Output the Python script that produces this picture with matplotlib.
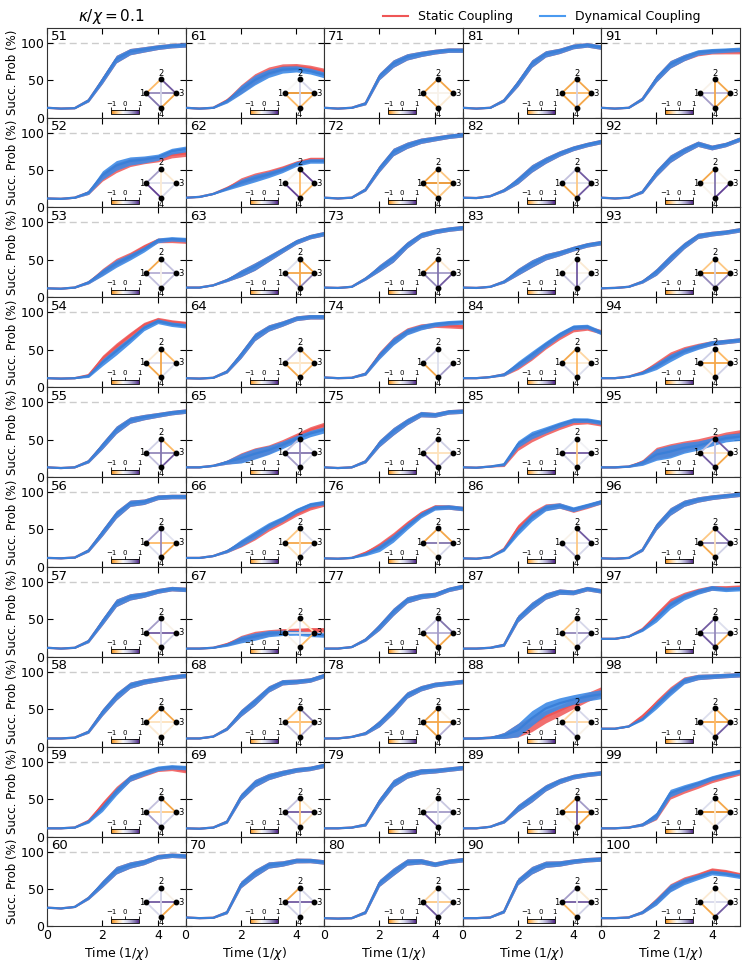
import numpy as np
import matplotlib
matplotlib.use("Agg")
import matplotlib.pyplot as plt
from matplotlib.colors import LinearSegmentedColormap, Normalize
from matplotlib.cm import ScalarMappable

# time grid of the read-off points (1/chi)
t = [0, 0.5, 1.0, 1.5, 2.0, 2.5, 3.0, 3.5, 4.0, 4.5, 5.0]

# dynamical coupling success probability (%) per instance
dyn = {
    51: [13, 12, 12.5, 23, 50, 78, 88, 91, 94, 96, 97],
    52: [12, 11.5, 13, 20, 43, 56, 62, 64, 67, 75, 78],
    53: [12, 11.5, 13, 20, 33, 45, 54, 64, 76, 78, 77],
    54: [12, 11.5, 12, 15, 33, 48, 63, 79, 88, 84, 82],
    55: [13, 12, 13, 21, 42, 63, 76, 80, 83, 86, 88],
    56: [12, 11.5, 12.5, 22, 46, 70, 85, 87, 93, 94, 94],
    57: [12, 11, 12, 21, 47, 72, 80, 83, 88, 91, 90],
    58: [11, 11, 12, 20, 46, 67, 82, 87, 90, 93, 95],
    59: [11, 11, 12, 20, 38, 60, 78, 85, 91, 93, 92],
    60: [25, 24, 26, 38, 57, 75, 82, 86, 93, 95, 94],
    61: [13, 12, 13, 22, 37, 50, 59, 64, 65, 62, 57],
    62: [13, 14, 18, 25, 33, 39, 44, 50, 58, 62, 62],
    63: [13, 13, 16, 23, 32, 41, 52, 63, 74, 81, 85],
    64: [12, 11.5, 12.5, 21, 43, 67, 79, 85, 92, 94, 94],
    65: [13, 13, 15, 20, 25, 31, 36, 43, 51, 58, 63],
    66: [12, 12, 14.5, 21, 32, 43, 55, 64, 75, 83, 86],
    67: [11, 11, 12, 16, 23, 27, 31, 32, 32, 30, 29],
    68: [11, 11, 13.5, 24, 45, 60, 77, 86, 87, 89, 95],
    69: [11, 10.5, 12, 20, 53, 71, 80, 85, 89, 91, 95],
    70: [12, 11, 11.5, 19, 56, 71, 82, 84, 88, 88, 86],
    71: [13, 12, 13, 19, 55, 72, 81, 85, 88, 90, 90],
    72: [13, 12, 13, 24, 52, 74, 83, 89, 92, 95, 97],
    73: [13, 12.5, 14, 25, 39, 52, 70, 83, 88, 91, 93],
    74: [13, 12, 12.5, 18, 42, 61, 74, 80, 84, 86, 87],
    75: [13, 12, 13, 21, 45, 61, 74, 84, 83, 87, 88],
    76: [11.5, 11, 12, 17, 25, 38, 54, 69, 79, 80, 78],
    77: [11, 11, 13, 23, 40, 60, 76, 81, 83, 90, 94],
    78: [11, 11, 13, 18, 31, 49, 69, 78, 83, 85, 87],
    79: [11, 11, 12, 16, 47, 71, 82, 87, 88, 90, 92],
    80: [11, 10.5, 11, 19, 58, 73, 86, 87, 83, 87, 89],
    81: [13, 12, 13, 23, 46, 72, 85, 89, 95, 97, 94],
    82: [13, 12.5, 15, 23, 36, 52, 63, 72, 79, 84, 88],
    83: [13, 12.5, 14, 21, 34, 45, 54, 59, 65, 70, 73],
    84: [12, 12, 13.5, 17, 30, 43, 57, 70, 80, 81, 73],
    85: [13, 12.5, 14, 17, 44, 56, 63, 70, 76, 76, 73],
    86: [11.5, 11, 13, 23, 47, 66, 79, 82, 77, 82, 87],
    87: [11, 11, 12, 16, 51, 68, 81, 87, 86, 91, 88],
    88: [11, 11, 12, 15, 22, 38, 51, 58, 63, 67, 70],
    89: [11, 11, 13, 20, 38, 51, 65, 74, 80, 83, 85],
    90: [11, 11, 12, 20, 60, 75, 83, 84, 87, 89, 90],
    91: [13, 12, 13, 25, 52, 71, 80, 87, 89, 90, 91],
    92: [13, 12, 13, 21, 46, 65, 76, 85, 80, 84, 91],
    93: [12, 12.5, 14, 21, 34, 52, 69, 82, 85, 87, 90],
    94: [12, 12, 14, 19, 28, 39, 48, 54, 59, 61, 63],
    95: [13, 13, 14, 19, 30, 34, 39, 42, 47, 52, 54],
    96: [11.5, 11, 12, 23, 54, 74, 85, 90, 93, 95, 97],
    97: [24, 24, 27, 36, 51, 69, 80, 87, 92, 90, 91],
    98: [24, 24, 27, 37, 55, 73, 88, 93, 94, 95, 96],
    99: [11, 11, 12, 16, 28, 58, 65, 71, 78, 83, 87],
    100: [11, 11, 12, 19, 33, 51, 60, 66, 72, 70, 67],
}

# static coupling where it differs visibly from the dynamical one
stat = {
    52: [12, 11.5, 13, 20, 41, 53, 60, 63, 65, 70, 72],
    53: [12, 11.5, 13, 20, 34, 47, 56, 67, 76, 76, 75],
    54: [12, 11.5, 12, 16, 38, 54, 69, 83, 90, 87, 85],
    59: [11, 11, 12, 21, 42, 62, 78, 84, 90, 91, 88],
    61: [13, 12, 13, 23, 38, 52, 62, 67, 68, 66, 62],
    62: [13, 14, 18, 26, 35, 41, 46, 52, 59, 64, 64],
    65: [13, 13, 15, 20, 26, 32, 37, 45, 54, 63, 69],
    66: [12, 12, 14.5, 21, 31, 41, 52, 61, 71, 79, 84],
    67: [11, 11, 12, 17, 24, 29, 32, 34, 35, 36, 36],
    74: [13, 12, 12.5, 18, 43, 62, 75, 81, 83, 82, 81],
    76: [11.5, 11, 12, 19, 28, 41, 57, 71, 80, 80, 78],
    84: [12, 12, 13.5, 17, 28, 41, 55, 67, 77, 79, 74],
    85: [13, 12.5, 14, 16, 40, 52, 60, 67, 73, 74, 71],
    86: [11.5, 11, 13, 24, 52, 69, 80, 82, 76, 81, 87],
    88: [11, 11, 12, 15, 22, 30, 40, 48, 57, 66, 74],
    91: [13, 12, 13, 25, 52, 71, 80, 86, 88, 88, 88],
    94: [12, 12, 14, 20, 30, 42, 50, 55, 59, 61, 63],
    95: [13, 13, 14, 20, 32, 36, 41, 45, 50, 55, 58],
    97: [24, 24, 27, 37, 55, 73, 82, 88, 92, 92, 93],
    98: [24, 24, 27, 41, 58, 75, 89, 93, 94, 95, 96],
    99: [11, 11, 12, 16, 27, 55, 62, 68, 75, 80, 85],
    100: [11, 11, 12, 19, 34, 52, 62, 68, 75, 73, 69],
}

# half width of the shaded spread over time, and wider panels
spread = [0.5, 0.5, 0.6, 2.0, 4.5, 5.0, 4.2, 3.6, 3.2, 3.0, 3.0]
spread_scale = {88: 2.0, 95: 1.7, 65: 1.4, 52: 1.3, 61: 1.3}

# couplings on the edges 1-2, 2-3, 3-4, 4-1, 1-3, 2-4
edges = {
    51: [-0.7, 0.8, -0.8, 0.7, 0.6, 0.2],
    52: [0.5, -0.3, 0.15, 0.9, 0.1, -0.3],
    53: [-0.8, 0.3, 0.3, 0.3, 0.4, -0.2],
    54: [-0.3, -0.7, 0.1, -0.8, 0.15, -0.8],
    55: [0.2, -0.7, 0.8, 0.3, 0.6, 0.7],
    56: [0.5, 0.05, -0.8, 0.1, -0.7, 0.6],
    57: [0.5, -0.2, 0.2, -0.4, 0.8, 0.3],
    58: [-0.8, -0.8, -0.3, -0.3, -0.4, -0.2],
    59: [0.3, -0.8, 0.2, 0.5, -0.6, 0.1],
    60: [0.1, -0.2, -0.8, 0.15, 0.8, 0.2],
    61: [-0.15, 0.15, -0.7, -0.7, -0.9, 0.2],
    62: [-0.2, 0.9, -0.7, 0.9, -0.2, -0.7],
    63: [0.1, -0.8, 0.6, 0.5, -0.8, -0.8],
    64: [0.3, -0.7, -0.7, -0.8, -0.4, -0.3],
    65: [0.3, 0.1, 0.1, 0.5, 0.7, 0.6],
    66: [-0.6, 0.1, 0.2, -0.4, -0.8, -0.5],
    67: [-0.3, -0.4, -0.7, -0.2, 0.1, 0.1],
    68: [-0.6, 0.6, 0.4, 0.3, -0.7, -0.6],
    69: [0.3, -0.3, -0.4, 0.3, 0.8, -0.6],
    70: [-0.8, 0.15, -0.2, 0.2, 0.8, 0.2],
    71: [-0.8, -0.8, -0.3, -0.8, -0.2, -0.2],
    72: [-0.8, -0.6, -0.6, -0.8, -0.9, -0.4],
    73: [-0.8, -0.3, 0.8, 0.6, 0.5, 0.7],
    74: [0.3, -0.15, 0.5, -0.8, -0.15, 0.1],
    75: [0.3, 0.2, 0.3, 0.8, -0.4, -0.4],
    76: [-0.8, -0.8, 0.15, -0.3, 0.7, -0.2],
    77: [0.3, 0.7, -0.8, -0.8, 0.4, 0.5],
    78: [-0.8, -0.2, 0.4, -0.8, -0.8, -0.8],
    79: [-0.2, 0.25, 0.1, 0.8, 0.5, 0.1],
    80: [-0.5, 0.1, 0.3, 0.8, -0.6, 0.1],
    81: [-0.8, -0.8, -0.8, -0.8, -0.7, 0.2],
    82: [0.3, 0.8, 0.8, -0.8, 0.1, -0.6],
    83: [-0.2, -0.3, 0.15, 0.3, -0.2, 0.8],
    84: [-0.8, -0.5, 0.1, 0.2, -0.3, -0.7],
    85: [0.1, -0.1, 0.1, 0.2, 0.8, -0.6],
    86: [-0.2, 0.8, 0.15, 0.4, 0.05, -0.6],
    87: [-0.6, 0.15, 0.3, -0.4, 0.6, 0.05],
    88: [-0.5, 0.15, -0.2, 0.4, -0.5, 0.1],
    89: [-0.8, 0.5, -0.8, -0.2, -0.8, 0.8],
    90: [0.5, -0.3, 0.2, -0.7, 0.8, -0.1],
    91: [-0.2, -0.8, -0.8, 0.5, 0.35, -0.8],
    92: [-0.8, -0.2, 0.9, -0.2, -0.2, 0.7],
    93: [-0.6, -0.6, 0.6, 0.6, -0.9, 0.2],
    94: [0.2, -0.7, 0.2, -0.3, -0.8, -0.8],
    95: [0.3, 0.8, -0.8, 0.8, -0.4, 0.3],
    96: [-0.6, 0.8, 0.2, -0.8, 0.6, -0.4],
    97: [0.8, 0.1, -0.8, 0.8, 0.3, 0.6],
    98: [0.1, -0.8, 0.8, 0.15, -0.8, -0.7],
    99: [0.1, -0.8, 0.15, -0.3, -0.9, -0.3],
    100: [-0.3, -0.3, 0.8, -0.8, 0.15, -0.1],
}
edge_pairs = [(1, 2), (2, 3), (3, 4), (4, 1), (1, 3), (2, 4)]

RED = "#ef5656"
BLUE = "#3d8ae6"
cmap = LinearSegmentedColormap.from_list(
    "puor_mid", ["#e08214", "#fdb863", "#fee0b6", "#f7f7f7",
                 "#d8daeb", "#b2abd2", "#8073ac", "#542788"])
norm = Normalize(-1, 1)

# node positions of the little graph, in axes fraction
node_xy = {1: (0.715, 0.269), 2: (0.823, 0.428), 3: (0.931, 0.269), 4: (0.823, 0.108)}

fig, axes = plt.subplots(10, 5, figsize=(7.47, 9.64), dpi=100, sharex=True, sharey=True)
fig.subplots_adjust(left=0.063, right=0.99, top=0.9713, bottom=0.039, hspace=0, wspace=0)

tt = np.array(t)
sp = np.array(spread)
for n in range(51, 101):
    col = (n - 51) // 10
    row = (n - 51) % 10
    ax = axes[row, col]
    w = sp * spread_scale.get(n, 1.0)
    yd = np.array(dyn[n])
    ys = np.array(stat.get(n, dyn[n]))
    ax.axhline(100, color="#cccccc", ls=(0, (5, 3)), lw=1.0, zorder=1)
    ax.fill_between(tt, ys - w, ys + w, color=RED, alpha=0.85, lw=0, zorder=2)
    ax.plot(tt, ys, color=RED, lw=1.6, zorder=2)
    ax.fill_between(tt, yd - w, yd + w, color=BLUE, alpha=0.9, lw=0, zorder=3)
    ax.plot(tt, yd, color="#3a7fd8", lw=1.6, zorder=3)
    ax.set_xlim(0, 5)
    ax.set_ylim(0, 120)
    ax.set_xticks([0, 2, 4])
    ax.set_yticks([0, 50, 100])
    ax.tick_params(direction="in", top=True, right=True, labelsize=9, length=4, pad=2)
    for s in ax.spines.values():
        s.set_color("#333333")
    ax.text(0.03, 0.97, str(n), transform=ax.transAxes, ha="left", va="top", fontsize=9.5)

    # graph inset
    for (a, b), v in zip(edge_pairs, edges[n]):
        xa, ya = node_xy[a]
        xb, yb = node_xy[b]
        ax.plot([xa, xb], [ya, yb], transform=ax.transAxes, color=cmap(norm(v)),
                lw=1.3, zorder=5, solid_capstyle="round")
    for k, (x, y) in node_xy.items():
        ax.plot(x, y, "o", color="black", ms=3.2, transform=ax.transAxes, zorder=6)
    ax.text(0.700, 0.269, "1", transform=ax.transAxes, ha="right", va="center", fontsize=6, zorder=6)
    ax.text(0.946, 0.269, "3", transform=ax.transAxes, ha="left", va="center", fontsize=6, zorder=6)
    ax.text(0.823, 0.445, "2", transform=ax.transAxes, ha="center", va="bottom", fontsize=6, zorder=6)
    ax.text(0.823, 0.088, "4", transform=ax.transAxes, ha="center", va="top", fontsize=6, zorder=6)

    cax = ax.inset_axes([0.462, 0.038, 0.202, 0.045])
    cb = fig.colorbar(ScalarMappable(norm=norm, cmap=cmap), cax=cax, orientation="horizontal")
    cb.set_ticks([-1, 0, 1])
    cb.ax.xaxis.set_ticks_position("top")
    cb.ax.tick_params(labelsize=5, length=2, pad=0.5, width=0.6)
    cb.outline.set_linewidth(0.6)

    if col == 0:
        ax.set_ylabel("Succ. Prob (%)", fontsize=8.5, labelpad=1)
    if row == 9:
        ax.set_xlabel(r"Time (1/$\chi$)", fontsize=9, labelpad=2)

fig.text(0.105, 0.983, r"$\kappa/\chi = 0.1$", fontsize=11, ha="left", va="center")
h1, = axes[0, 0].plot([], [], color=RED, lw=1.5, label="Static Coupling")
h2, = axes[0, 0].plot([], [], color="#4a9af0", lw=1.5, label="Dynamical Coupling")
fig.legend(handles=[h1, h2], loc="center", bbox_to_anchor=(0.725, 0.983), ncol=2,
           frameon=False, fontsize=9, handlelength=2.0, columnspacing=2.2)

fig.savefig("out.png", dpi=100)
